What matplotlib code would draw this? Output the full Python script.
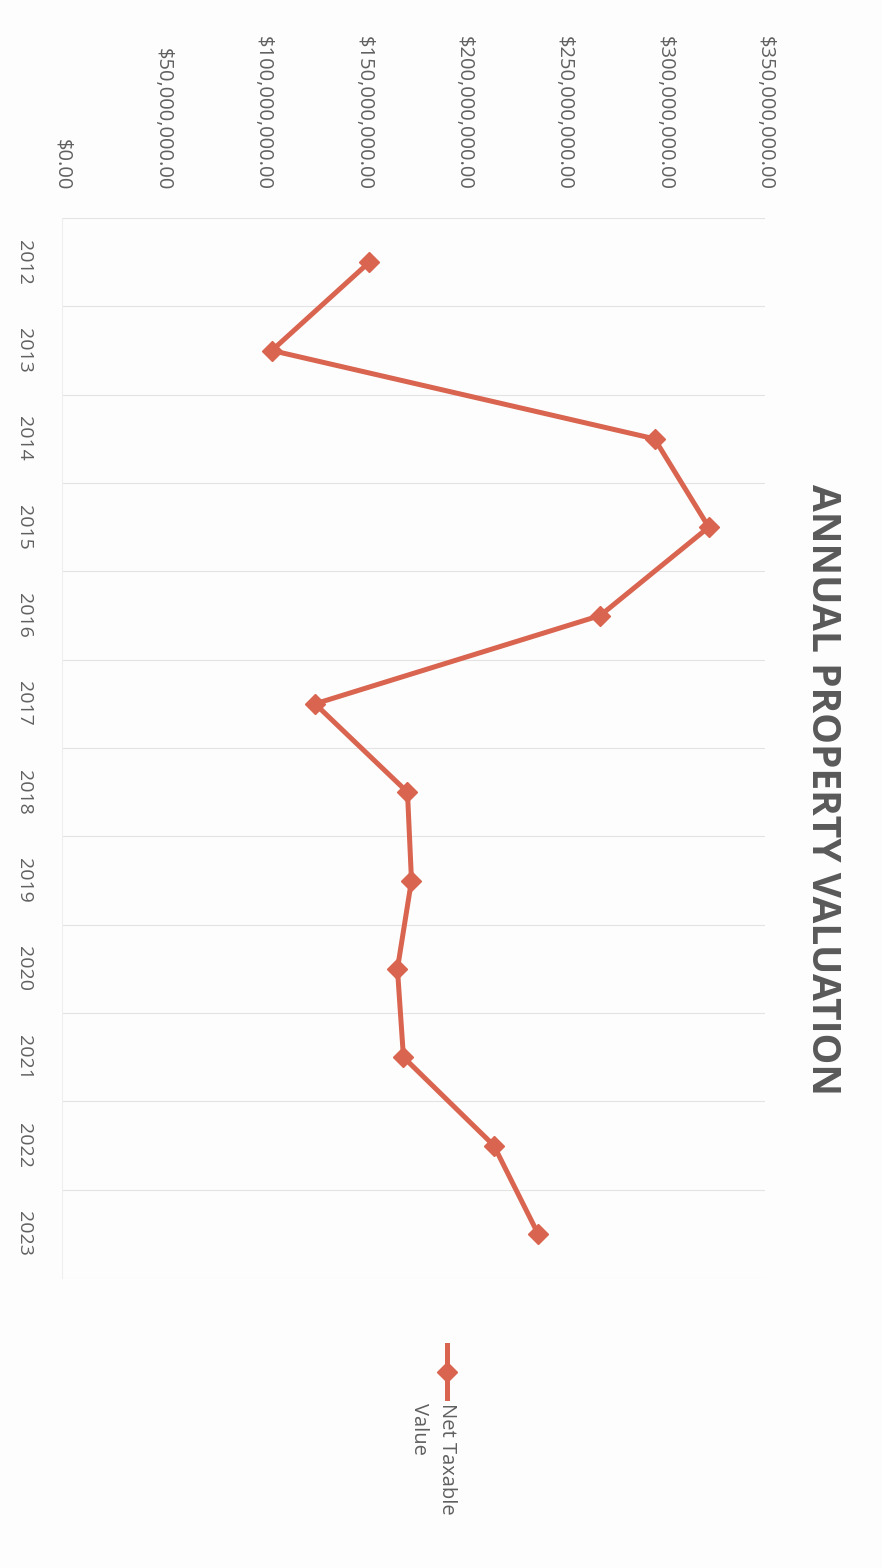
import matplotlib
matplotlib.use("Agg")
import matplotlib.pyplot as plt
from matplotlib.lines import Line2D
from matplotlib.ticker import FuncFormatter, FixedLocator

plt.rcParams['font.family'] = ['Open Sans', 'DejaVu Sans']

years = ['2012', '2013', '2014', '2015', '2016', '2017', '2018', '2019', '2020', '2021', '2022', '2023']
net_taxable = [153e6, 104.5e6, 295e6, 322e6, 268e6, 126e6, 172e6, 174e6, 167e6, 170e6, 215e6, 237e6]
value_ticks = [0, 50e6, 100e6, 150e6, 200e6, 250e6, 300e6, 350e6]
title = 'ANNUAL PROPERTY VALUATION'
series_name = 'Net Taxable\nValue'

W, H = 882, 1568
fig = plt.figure(figsize=(W / 100, H / 100), dpi=100)
fig.patch.set_facecolor('#fdfdfd')

left, right, top, bottom = 62, 765, 218, 1278
ax = fig.add_axes([left / W, 1 - bottom / H, (right - left) / W, (bottom - top) / H])
ax.set_facecolor('#fdfdfd')

line_color = '#d9644f'
pos = list(range(len(years)))
ax.plot(net_taxable, pos, color=line_color, lw=3.6, marker='D', ms=10,
        markerfacecolor=line_color, markeredgecolor=line_color, solid_joinstyle='round')

ax.set_xlim(0, 350e6)
ax.set_ylim(len(years) - 0.5, -0.5)

ax.xaxis.tick_top()
ax.xaxis.set_major_locator(FixedLocator(value_ticks))
ax.xaxis.set_major_formatter(FuncFormatter(lambda v, p: '${:,.2f}'.format(v)))
ax.set_yticks(pos)
ax.set_yticklabels(years)

for lab in ax.get_xticklabels():
    lab.set_rotation(-90)
    lab.set_va('bottom')
    lab.set_ha('center')
    lab.set_fontsize(14.5)
    lab.set_color('#606060')
for lab in ax.get_yticklabels():
    lab.set_rotation(-90)
    lab.set_va('center')
    lab.set_ha('right')
    lab.set_fontsize(14)
    lab.set_color('#606060')

ax.tick_params(axis='x', length=0, pad=20)
ax.tick_params(axis='y', length=0, pad=21)

boundaries = [p - 0.5 for p in pos] + [len(years) - 0.5]
ax.yaxis.set_minor_locator(FixedLocator(boundaries))
ax.tick_params(axis='y', which='minor', length=0)
ax.grid(True, axis='y', which='minor', color='#e3e3e3', lw=0.8)
ax.grid(False, axis='y', which='major')
ax.grid(False, axis='x')
for s in ax.spines.values():
    s.set_visible(False)
ax.spines['left'].set_visible(True)
ax.spines['left'].set_color('#eeeeee')
ax.spines['left'].set_linewidth(0.8)

fig.text(823 / W, 1 - 790 / H, title, rotation=-90, ha='center', va='center',
         fontsize=28, fontweight='bold', color='#595959')

# legend (drawn manually so that it can be rotated with the rest of the chart)
lx = 447 / W
fig.add_artist(Line2D([lx, lx], [1 - 1345 / H, 1 - 1398 / H], transform=fig.transFigure,
                      color=line_color, lw=3.6))
fig.add_artist(Line2D([lx], [1 - 1372 / H], transform=fig.transFigure, marker='D', ms=10,
                      color=line_color, lw=0))
fig.text(433 / W, 1 - 1403 / H, series_name, rotation=-90, ha='center', va='top',
         multialignment='left', fontsize=14.5, color='#606060', linespacing=1.5)

fig.savefig('out.png', dpi=100, facecolor=fig.get_facecolor())
